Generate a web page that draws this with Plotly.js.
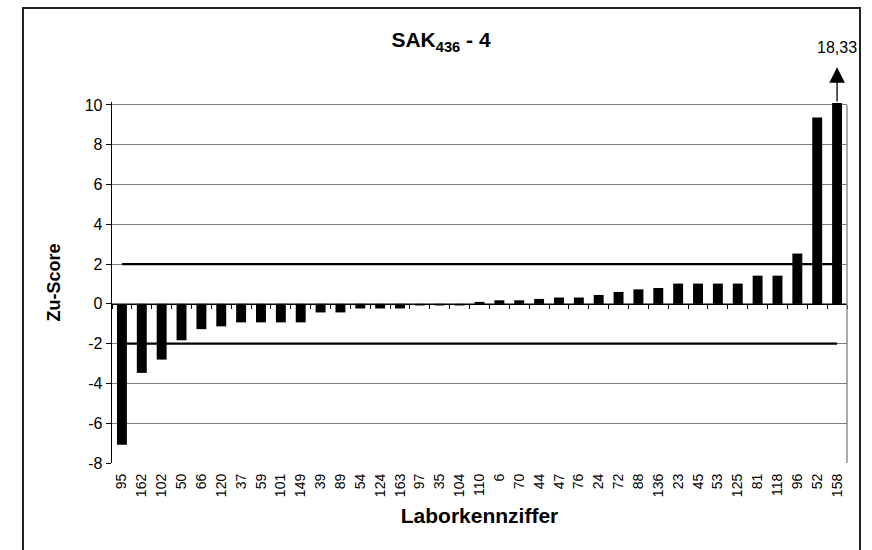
<!DOCTYPE html>
<html>
<head>
<meta charset="utf-8">
<script src="https://cdn.plot.ly/plotly-3.0.1.min.js"></script>
<style>
  html, body { margin: 0; padding: 0; background: #fff; }
  #chart { width: 872px; height: 550px; position: absolute; left: 0; top: 0; }
  #frame { position: absolute; left: 22px; top: 7px; width: 839px; height: 600px;
           border: 2px solid #222; pointer-events: none; box-sizing: border-box; }
</style>
</head>
<body>
<div id="chart"></div>
<div id="frame"></div>
<script>
// ---- data ----
const labCodes = ['95','162','102','50','66','120','37','59','101','149','39','89','54','124','163','97','35','104','110','6','70','44','47','76','24','72','88','136','23','45','53','125','81','118','96','52','158'];
const zScores = [-7.08,-3.47,-2.80,-1.83,-1.27,-1.13,-0.93,-0.93,-0.93,-0.93,-0.43,-0.43,-0.23,-0.23,-0.23,-0.08,-0.08,-0.08,0.10,0.18,0.18,0.25,0.32,0.32,0.45,0.60,0.73,0.80,1.02,1.02,1.02,1.02,1.42,1.42,2.53,9.37,18.33];
const limitValues = [2, -2];
const yTicks = [-8, -6, -4, -2, 0, 2, 4, 6, 8, 10];

// ---- chart settings ----
const yMin = -8, yMax = 10.15, barCap = 10.1;
const FONT = '"Liberation Sans", Arial, sans-serif';
const n = labCodes.length;
const shown = zScores.map(v => Math.min(v, barCap));
const idx = labCodes.map((_, i) => i);

const traces = [
  {
    type: 'bar', x: labCodes, y: shown, marker: {color: '#000', line: {width: 0}},
    text: zScores.map(v => v.toFixed(2).replace('.', ',')), textposition: 'none',
    hovertemplate: '%{x}: %{text}<extra></extra>', showlegend: false
  }
];
limitValues.forEach(l => {
  traces.push({
    type: 'scatter', mode: 'lines', xaxis: 'x2', yaxis: 'y',
    x: [idx[0], idx[n - 1]], y: [l, l],
    line: {color: '#000', width: 2.2}, hoverinfo: 'skip', showlegend: false
  });
});

// off-scale values: arrow + real value
const annotations = [];
zScores.forEach((v, i) => {
  if (v > barCap) {
    annotations.push({
      xref: 'x2', yref: 'y', x: i, y: 11.9,
      axref: 'x2', ayref: 'y', ax: i, ay: barCap,
      text: '', showarrow: true,
      arrowhead: 2, arrowsize: 2.4, arrowwidth: 1.3, arrowcolor: '#000', standoff: 0, startstandoff: 0
    });
    annotations.push({
      xref: 'x2', yref: 'paper', x: i, y: 1.15, yanchor: 'middle',
      text: v.toFixed(2).replace('.', ','), showarrow: false,
      font: {family: FONT, size: 16, color: '#000'}
    });
  }
});

const layout = {
  width: 872, height: 550,
  margin: {l: 112, r: 25, t: 102, b: 87},
  paper_bgcolor: '#fff', plot_bgcolor: '#fff',
  font: {family: FONT, color: '#000'},
  bargap: 0.5,
  title: {
    text: '<b>SAK<sub>436</sub> - 4</b>',
    font: {family: FONT, size: 21, color: '#000'},
    x: 441 / 872, xref: 'container', xanchor: 'center',
    y: 1 - 40 / 550, yref: 'container', yanchor: 'middle'
  },
  xaxis: {
    type: 'category', range: [-0.5, n - 0.5],
    showgrid: false, zeroline: false, showline: false, ticks: '',
    tickangle: -90, tickfont: {family: FONT, size: 14, color: '#000'},
    ticklabelstandoff: 7,
    title: {text: '<b>Laborkennziffer</b>', font: {family: FONT, size: 21, color: '#000'}, standoff: 12},
    fixedrange: true
  },
  xaxis2: {
    overlaying: 'x', anchor: 'free', position: (0 - yMin) / (yMax - yMin),
    range: [-0.5, n - 0.5], tick0: -0.5, dtick: 1, ticks: 'outside', ticklen: 4,
    tickcolor: '#000', tickwidth: 1, showticklabels: false, showgrid: false, zeroline: false,
    showline: true, linecolor: '#000', linewidth: 1.3, fixedrange: true
  },
  yaxis: {
    range: [yMin, yMax], tickvals: yTicks, ticktext: yTicks.map(String),
    showgrid: true, gridcolor: '#7f7f7f', gridwidth: 1,
    zeroline: false, showline: true, linecolor: '#000', linewidth: 1.3,
    ticks: 'outside', ticklen: 5, tickcolor: '#000', tickwidth: 1,
    tickfont: {family: FONT, size: 16, color: '#000'},
    title: {text: '<b>Zu-Score</b>', font: {family: FONT, size: 18, color: '#000'}, standoff: 19},
    fixedrange: true
  },
  shapes: [
    {type: 'line', xref: 'paper', yref: 'y', x0: 1, x1: 1, y0: yMin, y1: yTicks[yTicks.length - 1],
     line: {color: '#7f7f7f', width: 1.3}}
  ],
  annotations: annotations
};

Plotly.newPlot('chart', traces, layout, {displayModeBar: false, staticPlot: true});
</script>
</body>
</html>
